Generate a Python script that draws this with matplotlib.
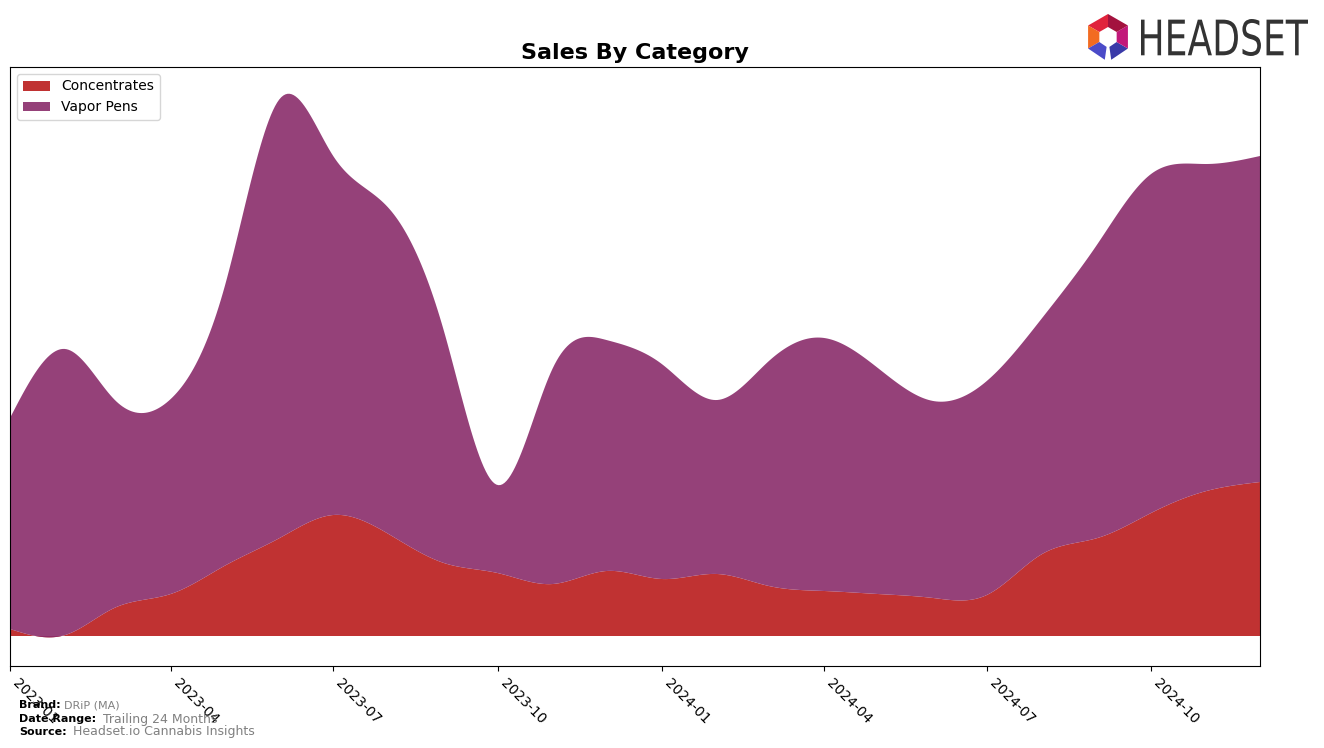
import matplotlib
matplotlib.use('Agg')
import matplotlib.pyplot as plt
import matplotlib.dates as mdates
from matplotlib.patches import Polygon, PathPatch
from matplotlib.textpath import TextPath
from matplotlib.font_manager import FontProperties
from matplotlib.transforms import Affine2D, IdentityTransform
import numpy as np
import pandas as pd

# monthly sales (arbitrary units)
months = pd.date_range('2023-01-01', '2024-12-01', freq='MS')
concentrates = [7, 1, 28.5, 42, 70, 98, 121, 102, 73, 63, 52, 65,
                57, 62, 50, 45, 42, 38, 41, 82, 98, 123, 145, 154]
vapor_pens = [211, 286, 207, 195, 278, 439, 359, 326, 232, 88, 216, 231,
              215, 174, 225, 253, 226, 197, 214, 236, 294, 339, 327, 326]
labels = ['Concentrates', 'Vapor Pens']
colors = ['#BA1C1C', '#8A2C6B']


def smooth(x, y, n=600):
    # natural cubic spline, numpy only
    x = np.asarray(x, float)
    y = np.asarray(y, float)
    m = len(x)
    h = np.diff(x)
    A = np.zeros((m, m))
    r = np.zeros(m)
    A[0, 0] = 1
    A[-1, -1] = 1
    for i in range(1, m - 1):
        A[i, i - 1] = h[i - 1]
        A[i, i] = 2 * (h[i - 1] + h[i])
        A[i, i + 1] = h[i]
        r[i] = 3 * ((y[i + 1] - y[i]) / h[i] - (y[i] - y[i - 1]) / h[i - 1])
    c = np.linalg.solve(A, r)
    b = (y[1:] - y[:-1]) / h - h * (2 * c[:-1] + c[1:]) / 3
    d = (c[1:] - c[:-1]) / (3 * h)
    xs = np.linspace(x[0], x[-1], n)
    idx = np.clip(np.searchsorted(x, xs, 'right') - 1, 0, m - 2)
    dx = xs - x[idx]
    ys = y[idx] + b[idx] * dx + c[idx] * dx ** 2 + d[idx] * dx ** 3
    return xs, ys


xnum = mdates.date2num(months)
xs, conc_s = smooth(xnum, concentrates)
_, vape_s = smooth(xnum, vapor_pens)

fig = plt.figure(figsize=(13.24, 7.48), dpi=100)
ax = fig.add_axes([10 / 1324, 82 / 748, 1250 / 1324, 599 / 748])

ax.stackplot(xs, conc_s, vape_s, labels=labels, colors=colors, alpha=0.9, linewidth=0)

ax.set_xlim(xnum[0], xnum[-1])
ax.set_ylim(-30, 569)
ax.set_yticks([])
ax.xaxis.set_major_locator(mdates.MonthLocator(bymonth=[1, 4, 7, 10]))
ax.xaxis.set_major_formatter(mdates.DateFormatter('%Y-%m'))
plt.setp(ax.get_xticklabels(), rotation=-45, ha='left', fontsize=10)

ax.set_title('Sales By Category', fontsize=16, fontweight='bold')
ax.legend(loc='upper left', fontsize=10)

# footer
def px(x, y):
    return x / 1324, 1 - y / 748

fig.text(*px(19, 705), 'Brand:', fontsize=8, fontweight='bold', va='center')
fig.text(*px(64, 705), 'DRiP (MA)', fontsize=8, color='gray', va='center')
fig.text(*px(19, 719), 'Date Range:', fontsize=8, fontweight='bold', va='center')
fig.text(*px(103, 719), 'Trailing 24 Months', fontsize=9, color='gray', va='center')
fig.text(*px(19, 732), 'Source:', fontsize=8, fontweight='bold', va='center')
fig.text(*px(73, 732), 'Headset.io Cannabis Insights', fontsize=9, color='gray', va='center')

# logo text, fitted into its box (pixels)
tp = TextPath((0, 0), 'HEADSET', size=10, prop=FontProperties(family='DejaVu Sans'))
bb = tp.get_extents()
x0, x1, ytop, ybot = 1141, 1308, 19, 56
sx = (x1 - x0) / bb.width
sy = (ybot - ytop) / bb.height
tr = Affine2D().translate(-bb.x0, -bb.y0).scale(sx, sy).translate(x0, 748 - ybot)
fig.patches.append(PathPatch(tr.transform_path(tp), facecolor='#333333',
                             edgecolor='none', transform=IdentityTransform()))

# logo icon: open hexagon ring
cx, cy = 1108, 748 - 37
ro, ri = 23, 10
segs = [(90, 150, '#E0233C'), (150, 210, '#F26B21'), (210, 262, '#4B4BC8'),
        (278, 330, '#3A3AA8'), (330, 390, '#C2187A'), (30, 90, '#A3123E')]
for a1, a2, col in segs:
    t1, t2 = np.radians(a1), np.radians(a2)
    pts = [(cx + ro * np.cos(t1), cy + ro * np.sin(t1)),
           (cx + ro * np.cos(t2), cy + ro * np.sin(t2)),
           (cx + ri * np.cos(t2), cy + ri * np.sin(t2)),
           (cx + ri * np.cos(t1), cy + ri * np.sin(t1))]
    fig.patches.append(Polygon(pts, closed=True, facecolor=col, edgecolor='none',
                               transform=IdentityTransform()))

fig.savefig('out.png', dpi=100)
